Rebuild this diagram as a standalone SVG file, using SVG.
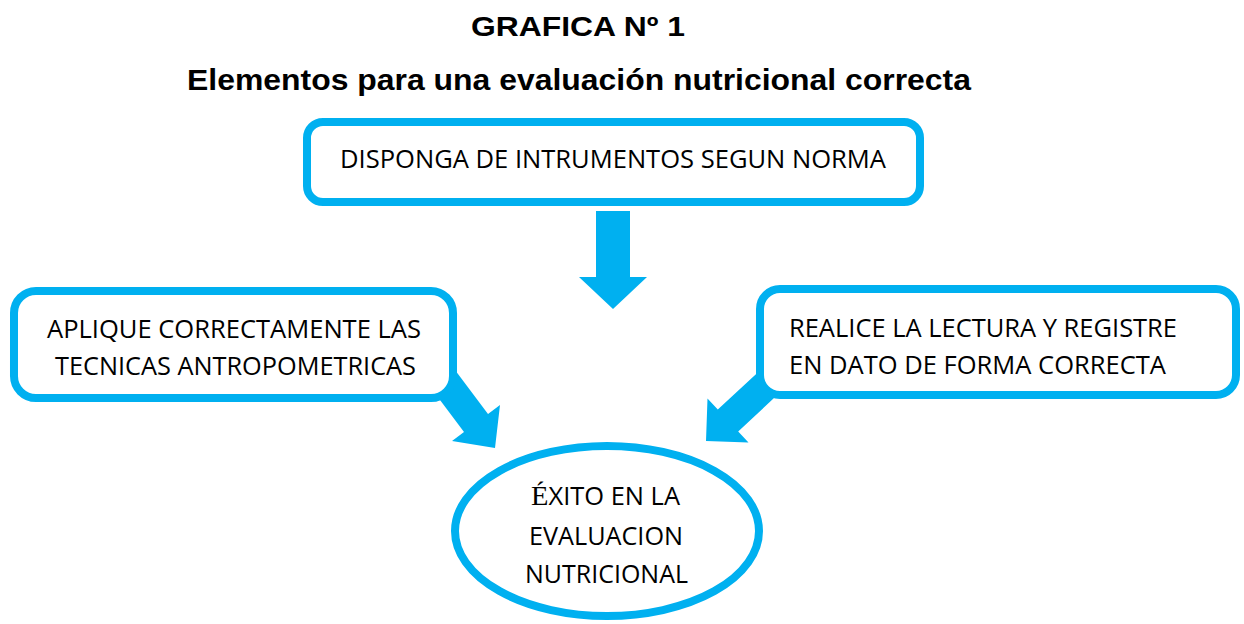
<svg xmlns="http://www.w3.org/2000/svg" width="1244" height="624" viewBox="0 0 1244 624">
  <style>
    .box { fill: #FFFFFF; stroke: #00B0F0; stroke-width: 8; }
    .arrow { fill: #00B0F0; stroke: none; }
    .title { font-family: "Liberation Sans", Arial, sans-serif; font-weight: bold; fill: #000000; }
    .lbl { font-family: "Open Sans", "Liberation Sans", sans-serif; font-size: 26px; fill: #000000; }
    .ell { font-family: "Open Sans", "Liberation Sans", sans-serif; font-size: 25px; fill: #000000; }
  </style>
  <rect width="1244" height="624" fill="#FFFFFF"/>
  <g id="titles">
    <text class="title" x="471" y="36" font-size="28" textLength="214" lengthAdjust="spacingAndGlyphs">GRAFICA Nº 1</text>
    <text class="title" x="187" y="90" font-size="30" textLength="784" lengthAdjust="spacingAndGlyphs">Elementos para una evaluación nutricional correcta</text>
  </g>
  <g id="connectors">
    <polygon class="arrow" points="596,211 630,211 630,277 647,277 613,309 579,277 596,277"/>
    <polygon class="arrow" points="428,384 452,366 488,414 500,405 495,448 452,441 464,432"/>
    <polygon class="arrow" points="789,384 769,362 717.8,409.5 707.5,398.5 706,441 748.5,442.5 738.2,431.5"/>
  </g>
  <g id="node-top">
    <rect class="box" x="307" y="122" width="613" height="80" rx="16" ry="16"/>
    <text class="lbl" x="340" y="168" textLength="546" lengthAdjust="spacingAndGlyphs">DISPONGA DE INTRUMENTOS SEGUN NORMA</text>
  </g>
  <g id="node-left">
    <rect class="box" x="14" y="291" width="439" height="107" rx="22" ry="22"/>
    <text class="lbl" x="47" y="338" textLength="374" lengthAdjust="spacingAndGlyphs">APLIQUE CORRECTAMENTE LAS</text>
    <text class="lbl" x="55" y="375" textLength="361" lengthAdjust="spacingAndGlyphs">TECNICAS ANTROPOMETRICAS</text>
  </g>
  <g id="node-right">
    <rect class="box" x="760" y="289" width="476" height="106" rx="20" ry="20"/>
    <text class="lbl" x="789" y="337" textLength="388" lengthAdjust="spacingAndGlyphs">REALICE LA LECTURA Y REGISTRE</text>
    <text class="lbl" x="789" y="374" textLength="377" lengthAdjust="spacingAndGlyphs">EN DATO DE FORMA CORRECTA</text>
  </g>
  <g id="node-result">
    <ellipse class="box" cx="607" cy="531" rx="152" ry="85"/>
    <text class="ell" x="531" y="505" textLength="149" lengthAdjust="spacingAndGlyphs"><tspan font-family="'Liberation Serif', 'Times New Roman', serif" font-size="28">É</tspan>XITO EN LA</text>
    <text class="ell" x="529" y="545" textLength="154" lengthAdjust="spacingAndGlyphs">EVALUACION</text>
    <text class="ell" x="525" y="583" textLength="163" lengthAdjust="spacingAndGlyphs">NUTRICIONAL</text>
  </g>
</svg>
